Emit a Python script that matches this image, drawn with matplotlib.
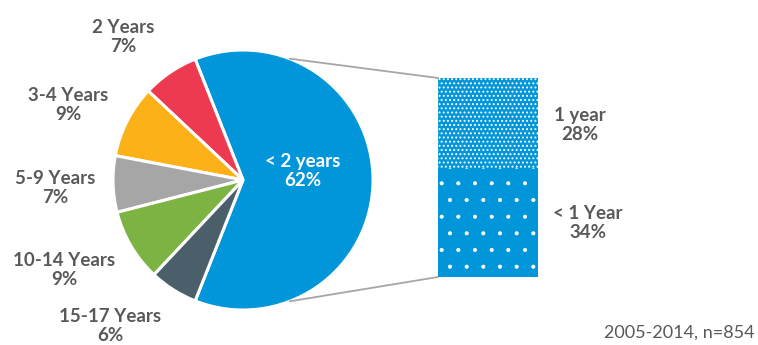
import matplotlib.pyplot as plt
import numpy as np
from matplotlib.patches import ConnectionPatch

plt.rcParams['font.family'] = ['Lato', 'DejaVu Sans']

# pie data (counter-clockwise from the big blue slice)
pie_labels = ['< 2 years', '2 Years', '3-4 Years', '5-9 Years', '10-14 Years', '15-17 Years']
pie_values = [62, 7, 9, 7, 9, 6]
pie_colors = ['#0096D9', '#EE3A50', '#FBB117', '#A6A6A6', '#7CB342', '#4B5F6B']

# breakdown of "< 2 years"
bar_labels = ['< 1 Year', '1 year']
bar_values = [34, 28]
bar_hatches = ['.', '....']
hatch_lw = [0.5, 0.9]

note = '2005-2014, n=854'
grey_txt = '#595959'

W, H = 758, 345
fig = plt.figure(figsize=(W / 100, H / 100), dpi=100)
ax = fig.add_axes([0, 0, 1, 1])

cx, cy, r = 243, H - 180, 130
start = -pie_values[0] / 100 * 360 / 2
wedges, _ = ax.pie(pie_values, colors=pie_colors, startangle=start, center=(cx, cy),
                   radius=r, counterclock=True, frame=True,
                   wedgeprops=dict(edgecolor='white', linewidth=2.2))
ax.set_xlim(0, W)
ax.set_ylim(0, H)
ax.set_aspect('equal')
ax.axis('off')

# label positions (pixel coords from top)
label_pos = [(303, 171), (123, 37), (68, 105), (55, 188), (64, 270), (110, 326)]
for i, (lab, val) in enumerate(zip(pie_labels, pie_values)):
    x, y = label_pos[i]
    col = 'white' if i == 0 else grey_txt
    ax.text(x, H - y, f'{lab}\n{val}%', ha='center', va='center', fontsize=13.5,
            fontweight='bold', color=col, linespacing=1.2)

# stacked bar of the blue slice
bx0, bx1, by0, by1 = 438, 538, 78, 277
ax2 = fig.add_axes([bx0 / W, (H - by1) / H, (bx1 - bx0) / W, (by1 - by0) / H])
bottom = 0
for val, hatch, hlw in zip(bar_values, bar_hatches, hatch_lw):
    with plt.rc_context({'hatch.linewidth': hlw}):
        ax2.bar(0, val, width=1, bottom=bottom, color=pie_colors[0], edgecolor='white',
                linewidth=0, hatch=hatch)
    bottom += val
ax2.set_xlim(-0.5, 0.5)
ax2.set_ylim(0, sum(bar_values))
ax2.axis('off')

bar_label_pos = [(588, 223), (580, 125)]
for lab, val, (x, y) in zip(bar_labels, bar_values, bar_label_pos):
    ax.text(x, H - y, f'{lab}\n{val}%', ha='center', va='center', fontsize=13.5,
            fontweight='bold', color=grey_txt, linespacing=1.2)

# connector lines
ang = np.deg2rad(69)
for sgn, ybar in [(1, sum(bar_values)), (-1, 0)]:
    p = (cx + r * np.cos(ang), cy + sgn * r * np.sin(ang))
    con = ConnectionPatch(xyA=(-0.5, ybar), coordsA=ax2.transData,
                          xyB=p, coordsB=ax.transData, color='#A6A6A6', linewidth=1.3)
    fig.add_artist(con)

ax.text(755, H - 333, note, ha='right', va='center', fontsize=13, color=grey_txt)

fig.savefig('out.png', dpi=100)
